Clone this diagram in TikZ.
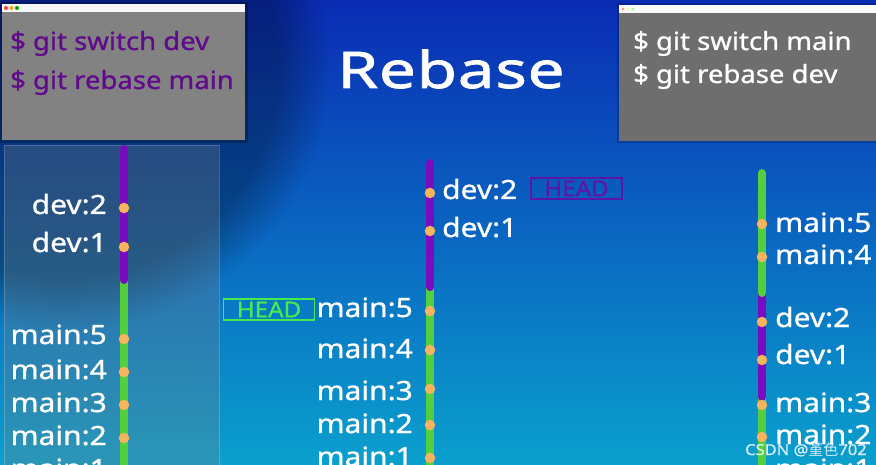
\documentclass[tikz,border=0pt]{standalone}
\usepackage{fontspec}
\usetikzlibrary{fadings}
\setmainfont[FakeStretch=1.1,FakeBold=0.9]{Noto Sans}
\newfontfamily\lblfont[FakeStretch=1.13,FakeBold=1.0]{Noto Sans}
\newfontfamily\titlefont[FakeStretch=1.3,FakeBold=1.6,LetterSpace=1.5]{Noto Sans}
\newfontfamily\cjk{Noto Sans CJK SC}
\definecolor{purp}{RGB}{122,12,192}
\definecolor{grn}{RGB}{82,206,62}
\definecolor{dotc}{RGB}{248,180,92}
\definecolor{termtxt}{RGB}{96,10,140}
\definecolor{headp}{RGB}{92,22,165}
\definecolor{headg}{RGB}{70,235,80}
\definecolor{bgtop}{RGB}{10,44,180}
\definecolor{bgmid}{RGB}{0,96,200}
\definecolor{bgbot}{RGB}{10,160,205}
\tikzset{
  dot/.style={circle,fill=dotc,inner sep=0pt,minimum size=10.5pt},
  lbl/.style={text=white,font=\lblfont\fontsize{26.5}{30}\selectfont,inner sep=0pt},
  cmd/.style={font=\fontsize{25}{30}\selectfont,inner sep=0pt,anchor=base west},
  branch/.style={line width=8pt,line cap=round},
  headbox/.style={draw,line width=1.2pt,minimum width=91pt,minimum height=21pt,inner sep=0pt,font=\fontsize{22}{24}\selectfont}
}
\begin{document}
\begin{tikzpicture}[x=1pt,y=-1pt]
\useasboundingbox (0,0) rectangle (876,465);
% background
\shade[top color=bgtop,middle color=bgmid,bottom color=bgbot] (0,0) rectangle (876,465);
\fill[black,opacity=0.3,path fading=circle with fuzzy edge 20 percent] (-200,-200) rectangle (330,330);
% left panel
\fill[gray,opacity=0.28] (4,145) rectangle (219,470);
\draw[white,opacity=0.2,line width=0.8pt] (4,145) rectangle (219,470);
% left terminal
\fill[black,opacity=0.25] (0,2) rectangle (248,143);
\fill[gray!98!white] (2,4) rectangle (245,140);
\fill[white!94!gray] (2,4) rectangle (245,12);
\fill[red!75!white] (6,8) circle (2);
\fill[orange!70!yellow] (11.5,8) circle (2);
\fill[green!65!black] (17,8) circle (2);
\node[cmd,text=termtxt] (lc1) at (10,50) {\$ git switch dev};
\node[cmd,text=termtxt] (lc2) at (10,89) {\$ git rebase main};
% right terminal
\fill[black,opacity=0.2] (617,3) rectangle (880,143);
\fill[black!57!white] (619,5) rectangle (880,141);
\fill[white!96!gray] (619,5) rectangle (880,13);
\fill[red!40!white] (623,9) circle (1.6);
\fill[yellow!50!white] (628,9) circle (1.6);
\fill[green!40!white] (633,9) circle (1.6);
\node[cmd,text=white] (rc1) at (633,50) {\$ git switch main};
\node[cmd,text=white] (rc2) at (633,83) {\$ git rebase dev};
% title
\node[text=white,inner sep=0pt,anchor=base,font=\titlefont\fontsize{50.5}{56}\selectfont] (title) at (451,88) {Rebase};
% ---- left column
\coordinate (a0) at (124,149);
\coordinate (a1) at (124,280);
\coordinate (a2) at (124,480);
\draw[branch,grn] (a1) -- (a2);
\draw[branch,purp] (a0) -- (a1);
\foreach \n/\y/\t/\b in {ad2/208/dev:2/214, ad1/247/dev:1/252, am5/339/main:5/344, am4/372/main:4/379, am3/405/main:3/412, am2/438/main:2/445, am1/471/main:1/478}{
  \node[dot] (\n) at (124,\y) {};
  \node[lbl,anchor=base east] (\n-l) at (107,\b) {\t};
}
% ---- middle column
\coordinate (b0) at (430,163);
\coordinate (b1) at (430,287);
\coordinate (b2) at (430,480);
\draw[branch,grn] (b1) -- (b2);
\draw[branch,purp] (b0) -- (b1);
\foreach \n/\y/\t/\b in {bm5/311/main:5/317, bm4/350/main:4/358, bm3/389/main:3/400, bm2/425/main:2/433, bm1/458/main:1/466}{
  \node[dot] (\n) at (430,\y) {};
  \node[lbl,anchor=base east] (\n-l) at (413,\b) {\t};
}
\foreach \n/\y/\t/\b in {bd2/193/dev:2/199, bd1/231/dev:1/237}{
  \node[dot] (\n) at (430,\y) {};
  \node[lbl,anchor=base west] (\n-l) at (442,\b) {\t};
}
\node[headbox,draw=headp,text=headp] (headp) at (576.5,188.5) {HEAD};
\node[headbox,draw=headg,text=headg] (headg) at (269,309.5) {HEAD};
% ---- right column
\coordinate (c0) at (762,173);
\coordinate (c1) at (762,293);
\coordinate (c2) at (762,397);
\coordinate (c3) at (762,480);
\draw[branch,grn] (c2) -- (c3);
\draw[branch,purp] (c1) -- (c2);
\draw[branch,grn] (c0) -- (c1);
\foreach \n/\y/\t/\b in {cm5/224/main:5/232, cm4/257/main:4/264, cd2/322/dev:2/327, cd1/360/dev:1/364, cm3/405/main:3/412, cm2/437/main:2/444, cm1/470/main:1/478}{
  \node[dot] (\n) at (762,\y) {};
  \node[lbl,anchor=base west] (\n-l) at (775,\b) {\t};
}
% watermark
\node[anchor=base west,inner sep=0pt,text=white,opacity=0.8,font=\fontsize{15}{18}\selectfont] (wm) at (745,455) {CSDN @{\cjk 堇色}702};
\end{tikzpicture}
\end{document}
